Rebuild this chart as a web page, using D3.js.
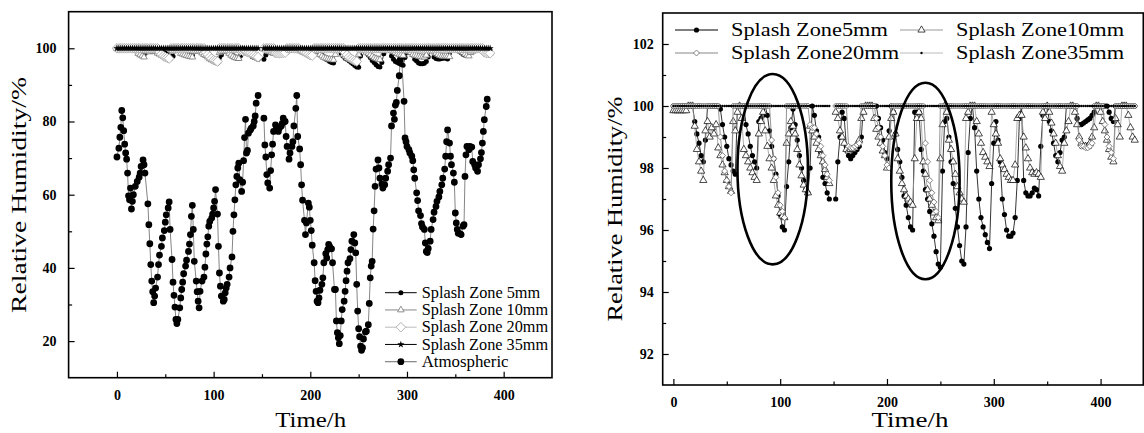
<!DOCTYPE html>
<html>
<head>
<meta charset="utf-8">
<script src="https://cdn.jsdelivr.net/npm/d3@7"></script>
<style>
  html, body { margin: 0; padding: 0; background: #fff; }
  svg { display: block; }
</style>
</head>
<body>
<script>
// sampling times (h) of the splash zone sensors, gap at 148-150 h
const hours = [
  0,2,4,6,8,10,12,14,16,18, 20,22,24,26,28,30,32,34,36,38,
  40,42,44,46,48,50,52,54,56,58, 60,62,64,66,68,70,72,74,76,78,
  80,82,84,86,88,90,92,94,96,98, 100,102,104,106,108,110,112,114,116,118,
  120,122,124,126,128,130,132,134,136,138, 140,142,144,146,
  152,154,156,158,160,162,164,166,168,170, 172,174,176,178,180,182,184,186,188,190,
  192,194,196,198,200,202,204,206,208,210, 212,214,216,218,220,222,224,226,228,230,
  232,234,236,238,240,242,244,246,248,250, 252,254,256,258,260,262,264,266,268,270,
  272,274,276,278,280,282,284,286,288,290, 292,294,296,298,300,302,304,306,308,310,
  312,314,316,318,320,322,324,326,328,330, 332,334,336,338,340,342,344,346,348,350,
  352,354,356,358,360,362,364,366,368,370, 372,374,376,378,380,382,384,386,388,390,
  392,394,396,398,400,402,404,406,408,410, 412,414,416,418,420,422,424,426,428,430,
  432
];

const splash5 = [
  100,100,100,100,100,100,100,100,100,100,
  99.5,99.1,98.8,98.4,98.2,98.9,100,100,100,100,
  100,100,99.9,99.4,99.0,98.7,98.3,98.1,97.9,97.8,
  100,100,100,100,99.4,99.1,98.7,98.4,98.2,98.0,
  99.5,99.6,99.7,100,99.7,99.2,98.7,98.3,97.8,97.1,
  96.5,96.1,96.0,97.4,98.2,99.3,99.9,99.4,98.9,98.4,
  98.0,97.6,97.3,97.2,98.0,100,99.7,99.2,99.0,98.5,
  97.7,97.5,97.2,97.0,
  97.0,98.2,99.0,99.8,99.6,98.7,98.4,98.3,98.4,98.5,
  98.6,98.7,99.0,100,100,100,100,100,100,100,
  99.6,99.3,98.9,98.5,98.3,99.2,100,99.8,99.1,98.6,
  98.2,97.7,97.1,96.8,96.4,96.1,96.0,99.8,99.8,99.8,
  98.6,97.9,97.3,97.0,96.6,96.2,95.8,95.3,94.9,94.8,
  97.9,99.5,99.6,99.0,98.2,97.5,96.7,96.1,95.5,95.0,
  94.9,96.1,98.5,99.6,100,99.3,97.9,97.0,96.4,96.1,
  95.85,95.6,95.4,97.5,98.8,99.5,98.9,98.2,97.0,96.5,
  96.0,95.8,95.8,95.9,96.4,97.6,99.6,100,97.6,97.2,
  97.1,97.1,97.2,97.35,97.3,97.1,98.7,99.7,100,100,
  99.5,99.2,98.8,98.4,98.2,98.5,98.9,99.0,100,100,
  100,100,100,99.6,99.4,99.4,99.45,99.5,99.55,99.6,
  99.7,99.8,100,100,100,100,100,100,99.8,99.6,
  99.5,100,100,100,100,100,100,100,100,100,
  100
];

const splash10 = [
  99.85,99.85,99.85,99.85,99.85,99.85,99.85,100,100,100,
  99.35,98.6,98.2,97.9,97.6,99.2,99.5,99.0,99.3,99.1,
  99.4,98.65,98.4,98.1,97.85,97.6,97.4,97.25,99.5,99.2,
  99.8,100,99.6,98.6,98.4,98.2,98.0,97.85,97.7,97.6,
  99.1,99.5,99.8,99.2,98.7,98.3,98.0,97.6,97.1,96.8,
  96.55,96.45,96.4,98.8,99.1,99.5,99.35,99.1,98.6,98.1,
  97.75,97.45,97.3,97.2,99.35,99.2,99.0,98.8,98.6,98.4,
  98.2,97.95,97.7,97.5,
  99.8,99.6,99.2,99.0,98.8,98.6,98.55,98.6,98.6,98.65,
  98.75,98.9,99.6,99.8,100,100,100,100,99.6,99.25,
  99.0,98.8,98.55,98.4,98.0,99.0,99.6,99.8,99.1,98.3,
  97.9,97.5,97.3,97.1,97.0,96.9,96.8,98.3,99.6,99.8,
  99.6,98.2,97.8,97.3,97.0,96.8,96.55,96.4,96.3,98.3,
  99.4,100,99.8,98.9,98.6,98.2,97.8,97.4,97.2,97.0,
  96.9,99.6,99.8,100,100,100,99.5,99.1,98.8,98.5,
  98.35,98.2,98.05,99.8,99.4,99.1,98.8,98.3,98.1,97.95,
  97.8,97.7,97.6,97.6,98.1,99.6,99.7,99.7,99.0,98.65,
  98.3,98.0,97.85,97.8,97.85,97.8,97.7,99.8,99.6,100,
  99.8,99.45,99.1,98.8,98.4,98.05,97.9,98.8,99.2,99.5,
  100,100,99.8,99.4,99.0,98.8,98.7,98.7,98.7,98.8,
  99.0,99.3,100,100,99.8,99.5,99.2,98.9,98.6,98.35,
  98.2,99.6,99.4,99.0,100,100,100,99.7,99.3,99.0,
  98.9
];

const splash20 = [
  100,100,100,100,100,100,100,100,100,100,
  100,100,100,100,100,100,100,100,100,100,
  100,100,99.0,98.4,97.9,97.6,97.4,97.2,100,100,
  100,100,100,100,100,100,100,100,100,100,
  100,100,100,100,100,100,98.9,98.3,97.7,97.2,
  96.8,96.6,96.4,100,100,100,100,100,100,100,
  100,100,100,100,99.4,99.3,99.3,99.1,98.9,98.7,
  98.4,98.1,97.8,97.6,
  100,100,100,100,100,100,98.7,98.65,98.65,98.7,
  98.75,98.8,100,100,100,100,100,100,100,99.6,
  99.3,99.0,98.7,98.4,98.1,98.0,100,100,100,100,
  100,100,100,100,100,100,100,100,100,100,
  100,100,98.8,98.2,97.6,97.2,96.9,96.6,96.4,100,
  100,100,100,100,100,100,100,100,100,100,
  100,100,100,100,100,100,100,100,100,100,
  100,100,100,100,100,100,100,100,100,100,
  100,100,100,100,100,100,100,100,100,100,
  100,100,100,100,100,100,100,100,100,100,
  100,100,100,100,100,100,100,100,100,100,
  100,100,100,100,98.9,98.7,98.7,98.65,98.65,98.7,
  98.8,100,100,100,100,100,99.4,99.0,98.7,98.5,
  98.3,100,100,100,100,100,100,100,100,100,
  100
];

const splash35 = [
  100,100,100,100,100,100,100,100,100,100, 100,100,100,100,100,100,100,100,100,100,
  100,100,100,100,100,100,100,100,100,100, 100,100,100,100,100,100,100,100,100,100,
  100,100,100,100,100,100,100,100,100,100, 100,100,100,100,100,100,100,100,100,100,
  100,100,100,100,100,100,100,100,100,100, 100,100,100,100,
  100,100,100,100,100,100,100,100,100,100, 100,100,100,100,100,100,100,100,100,100,
  100,100,100,100,100,100,100,100,100,100, 100,100,100,100,100,100,100,100,100,100,
  100,100,100,100,100,100,100,100,100,100, 100,100,100,100,100,100,100,100,100,100,
  100,100,100,100,100,100,100,100,100,100, 100,100,100,100,100,100,100,100,100,100,
  100,100,100,100,100,100,100,100,100,100, 100,100,100,100,100,100,100,100,100,100,
  100,100,100,100,100,100,100,100,100,100, 100,100,100,100,100,100,100,100,100,100,
  100,100,100,100,100,100,100,100,100,100, 100,100,100,100,100,100,100,100,100,100,
  100
];

// atmospheric relative humidity (left chart)
const atmoHours = [
  0,2,3,4,5,6,7,8,9,10, 11,12,13,14,15,16,17,19,21,23,
  24,25,27,28,29,32,33,34,35,36, 37,38,39,40,42,43,44,46,47,49,
  50,51,53,54,55,57,58,59,60,61, 62,63,65,66,67,68,69,71,72,74,
  75,76,77,78,79,80,82,83,84,85, 86,88,90,91,92,93,94,95,96,98,
  99,100,101,102,104,105,106,107,108,110, 111,112,113,114,116,117,119,120,121,122,
  123,124,125,126,127,129,130,131,132,133, 134,135,136,138,139,141,142,143,144,146,
  152,153,154,155,156,158,159,160,161,162, 164,165,167,168,170,171,172,174,175,176,
  178,179,181,182,183,185,186,187,189,190, 191,192,194,195,196,198,199,200,201,202,
  204,205,206,207,208,209,210,212,213,214, 216,217,218,219,220,222,223,225,226,227,
  228,229,230,231,232,233,235,236,237,238, 239,241,242,243,245,246,247,248,249,250,
  251,252,253,254,255,257,258,260,261,262, 263,264,265,266,267,268,270,271,272,274,
  275,277,278,280,281,283,284,286,287,288, 289,290,292,293,294,297,298,299,300,302,
  303,305,306,307,308,310,311,312,314,315, 316,318,319,320,321,322,324,325,327,328,
  330,331,333,334,336,337,339,340,341,342, 344,345,346,348,349,350,351,352,353,355,
  356,358,359,360,361,362,364,365,367,368, 370,371,373,374,376,377,378,379,380,382,
  383
];
const atmoRH = [
  70.3,72.7,75.7,78.4,83,81,77.5,73.8,71.4,69.7, 65.9,59.7,58.6,61.8,56.1,58.2,60,62.3,63.6,64.8,
  65.9,67.7,69.5,68.2,65.9,57.5,51.8,46.6,40.9,36.4, 33.5,30.5,32.3,34.5,37.5,40.9,43.5,45.9,48.2,50.2,
  52.5,54.5,56.4,58,50.5,42.3,36.1,32.5,29.3,25.9, 24.8,25.9,29.1,31.8,34.1,36.1,38.4,40.5,42.1,44.5,
  46.5,49.1,54.1,57.1,50.5,41.8,36.4,33.5,30.9,29.1, 33.6,36.4,37.5,40.2,43.8,46.5,48.5,51.4,52.7,53.6,
  54.7,56.4,58.2,61.4,54.7,45.9,38.6,35,32.3,30.9, 31.4,33.2,34.5,35.5,37.5,40,43,50,54.5,58.6,
  62.7,65,67.3,68.6,64.1,60.9,63.4,69.3,75.6,80.6, 71.4,72.1,76.8,77.7,78.2,78.8,80,81.5,85,87.1,
  80.9,73.6,70.3,65.5,63.2,61.8,66.6,70.9,73.8,77.3, 79.1,78.2,77.3,78.2,78.8,79.5,80.9,80,75.9,73.2,
  69.7,71.4,73.2,74.5,78.8,83.6,87.1,75.9,72.5,68.2, 62.7,58.5,53,49.1,52.3,57.7,56.6,53,50.2,46.2,
  41.4,36.5,33.6,30.9,30.5,31.8,33.9,35.5,37.3,41.4, 43.9,42.7,45,46.4,45.9,45.2,41.4,34.1,34.1,25.5,
  22.3,20.9,19.3,21.5,25.5,28.6,30.9,33.6,36.5,39.1, 41.4,42.5,45,47.3,49.1,46.8,44.1,35.5,28.2,23.4,
  21.2,18.6,17.5,18.2,20.6,22.5,22.7,24.5,30.3,37.3, 40.5,41.8,50.6,55.6,62.3,67,69.5,67.3,64.5,62.9,
  61.8,62.7,64.5,66.4,68.2,70,78.8,82.3,80.6,84.5, 85.2,88.5,92.5,96.8,99.1,85.5,75.5,74.5,73.2,72.3,
  71.4,70.5,69.3,66.8,64.5,60.5,58.4,55.6,54.3,52.1, 51.2,50.5,46.8,44.5,44.2,45.3,47.3,50.5,53.2,55.2,
  56.8,58.2,59.4,60.9,62.7,64.5,67,70.5,74.5,77.7, 74.1,70.5,68.2,65.9,63.4,55,52.3,50.5,49.5,49.3,
  49.1,51.4,51.8,65,70.9,73.2,72.3,73.2,73,69.1, 68.2,67.3,66.4,68.2,69.8,71.5,74.1,77.3,80.5,84.1,
  86.1
];

// circled regions on the right chart: centre (h, %) and half extents (h, %)
const ellipseCentreH = [93, 236];
const ellipseCentreRH = [97.96, 97.58];
const ellipseHalfH = [33, 32];
const ellipseHalfRH = [3.07, 3.17];

const leftNames = ["Splash Zone 5mm", "Splash Zone 10mm", "Splash Zone 20mm", "Splash Zone 35mm", "Atmospheric"];
const rightNames = ["Splash Zone5mm", "Splash Zone10mm", "Splash Zone20mm", "Splash Zone35mm"];

const W = 1144, H = 433;
const serif = "'Liberation Serif','Times New Roman',serif";
const svg = d3.select("body").append("svg").attr("width", W).attr("height", H);

// marker shapes
const tri = a => `M0,${-a * 1.15}L${a},${a * 0.58}L${-a},${a * 0.58}Z`;
const dia = a => `M0,${-a}L${a},0L0,${a}L${-a},0Z`;
const dot = r => d3.symbol(d3.symbolCircle, Math.PI * r * r)();
const star = s => d3.symbol(d3.symbolStar, s)();

function panel(c) {
  const x = d3.scaleLinear().domain(c.xd).range([c.x0, c.x1]);
  const y = d3.scaleLinear().domain(c.yd).range([c.y1, c.y0]);
  const g = svg.append("g");
  const clipId = "clip" + c.id;
  svg.append("clipPath").attr("id", clipId).append("rect")
    .attr("x", c.x0).attr("y", c.y0).attr("width", c.x1 - c.x0).attr("height", c.y1 - c.y0);
  const plot = g.append("g").attr("clip-path", `url(#${clipId})`);

  const styleAxis = sel => {
    sel.select(".domain").remove();
    sel.attr("font-family", serif).attr("font-size", c.tickFont).attr("font-weight", "bold");
    sel.selectAll("line").attr("stroke", "#000").attr("stroke-width", 1.2);
    sel.selectAll("text").attr("fill", "#000");
  };
  g.append("g").attr("transform", `translate(0,${c.y1})`)
    .call(d3.axisBottom(x).tickValues(c.xMajor).tickFormat(d3.format("d")).tickSize(-6).tickPadding(c.xPad))
    .call(styleAxis);
  g.append("g").attr("transform", `translate(0,${c.y1})`)
    .call(d3.axisBottom(x).tickValues(c.xMinor).tickFormat("").tickSize(-3.5))
    .call(styleAxis);
  g.append("g").attr("transform", `translate(${c.x0},0)`)
    .call(d3.axisLeft(y).tickValues(c.yMajor).tickFormat(d3.format("d")).tickSize(-6).tickPadding(c.yPad))
    .call(styleAxis);
  g.append("g").attr("transform", `translate(${c.x0},0)`)
    .call(d3.axisLeft(y).tickValues(c.yMinor).tickFormat("").tickSize(-3.5))
    .call(styleAxis);

  g.append("rect").attr("x", c.x0).attr("y", c.y0)
    .attr("width", c.x1 - c.x0).attr("height", c.y1 - c.y0)
    .attr("fill", "none").attr("stroke", "#000").attr("stroke-width", 1.6);

  g.append("text").attr("font-family", serif).attr("font-size", c.titleFont)
    .attr("text-anchor", "middle").attr("x", c.xTitleX).attr("y", c.xTitleY)
    .attr("textLength", c.xTitleLen).attr("lengthAdjust", "spacingAndGlyphs").text("Time/h");
  g.append("text").attr("font-family", serif).attr("font-size", c.titleFont)
    .attr("text-anchor", "middle")
    .attr("transform", `translate(${c.yTitleX},${c.yTitleY}) rotate(-90)`)
    .attr("textLength", c.yTitleLen).attr("lengthAdjust", "spacingAndGlyphs").text("Relative Humidity/%");
  return { x, y, g, plot };
}

function drawSeries(p, ts, vs, st) {
  const pts = ts.map((t, i) => [t, vs[i]]).filter(d => d[0] <= st.tmax);
  // break the line where the record has a gap
  const segs = [];
  pts.forEach((d, i) => {
    if (i === 0 || d[0] - pts[i - 1][0] > 4) segs.push([]);
    segs[segs.length - 1].push(d);
  });
  const line = d3.line().x(d => p.x(d[0])).y(d => p.y(d[1]));
  p.plot.append("g").selectAll("path").data(segs).join("path")
    .attr("d", line).attr("fill", "none").attr("stroke", st.line).attr("stroke-width", st.lw);
  p.plot.append("g").selectAll("path").data(pts).join("path")
    .attr("transform", d => `translate(${p.x(d[0])},${p.y(d[1])})`)
    .attr("d", st.shape).attr("fill", st.fill).attr("stroke", st.stroke).attr("stroke-width", st.sw);
}

function legendItem(g, x0, x1, y, tx, st, label, font, charW) {
  g.append("line").attr("x1", x0).attr("x2", x1).attr("y1", y).attr("y2", y)
    .attr("stroke", st.line).attr("stroke-width", st.lw + 0.2);
  g.append("path").attr("transform", `translate(${(x0 + x1) / 2},${y})`)
    .attr("d", st.shape).attr("fill", st.fill).attr("stroke", st.stroke).attr("stroke-width", st.sw);
  g.append("text").attr("font-family", serif).attr("font-size", font)
    .attr("x", tx).attr("y", y + font * 0.33)
    .attr("textLength", label.length * charW).attr("lengthAdjust", "spacingAndGlyphs").text(label);
}

// ---------- left chart ----------
const L = panel({
  id: "L", x0: 68.6, x1: 552, y0: 11.7, y1: 377.7, xd: [-50, 450], yd: [10, 110],
  xMajor: [0, 100, 200, 300, 400], xMinor: [50, 150, 250, 350],
  yMajor: [20, 40, 60, 80, 100], yMinor: [30, 50, 70, 90],
  tickFont: 14, xPad: 12, yPad: 12, titleFont: 21,
  xTitleX: 310.7, xTitleY: 427, xTitleLen: 71,
  yTitleX: 25.5, yTitleY: 195, yTitleLen: 236
});

const leftStyles = [
  { line: "#000", lw: 0.8, shape: dot(2.5), fill: "#000", stroke: "none", sw: 0, tmax: 386 },
  { line: "#888", lw: 0.8, shape: tri(3.3), fill: "#fff", stroke: "#777", sw: 0.8, tmax: 386 },
  { line: "#bbb", lw: 0.8, shape: dia(4.8), fill: "#fff", stroke: "#aaa", sw: 0.9, tmax: 386 },
  { line: "#000", lw: 0.8, shape: star(16), fill: "#000", stroke: "none", sw: 0, tmax: 386 },
  { line: "#777", lw: 0.9, shape: dot(3.4), fill: "#000", stroke: "none", sw: 0, tmax: 999 }
];
const splashSeries = [splash5, splash10, splash20, splash35];
// splash zone band on top; draw the atmospheric series first
drawSeries(L, atmoHours, atmoRH, leftStyles[4]);
splashSeries.forEach((vs, i) => drawSeries(L, hours, vs, leftStyles[i]));

const legL = L.g.append("g");
leftNames.forEach((n, i) => {
  legendItem(legL, 385, 416.7, 292.7 + i * 17.25, 421.7, leftStyles[i], n, 16, 7.9);
});

// ---------- right chart ----------
const R = panel({
  id: "R", x0: 662.7, x1: 1143.3, y0: 13, y1: 385, xd: [-10, 440], yd: [91, 103],
  xMajor: [0, 100, 200, 300, 400], xMinor: [50, 150, 250, 350],
  yMajor: [92, 94, 96, 98, 100, 102], yMinor: [93, 95, 97, 99, 101],
  tickFont: 14, xPad: 12, yPad: 9, titleFont: 21,
  xTitleX: 910, xTitleY: 427, xTitleLen: 77,
  yTitleX: 622, yTitleY: 209, yTitleLen: 225
});

const rightStyles = [
  { line: "#000", lw: 0.8, shape: dot(2.6), fill: "#000", stroke: "none", sw: 0, tmax: 999 },
  { line: "#999", lw: 0.8, shape: tri(3.6), fill: "#fff", stroke: "#000", sw: 0.7, tmax: 999 },
  { line: "#888", lw: 0.9, shape: dia(3.0), fill: "#fff", stroke: "#666", sw: 0.8, tmax: 999 },
  { line: "#aaa", lw: 0.6, shape: dot(1.2), fill: "#000", stroke: "none", sw: 0, tmax: 999 }
];
splashSeries.forEach((vs, i) => drawSeries(R, hours, vs, rightStyles[i]));

R.plot.append("g").selectAll("ellipse").data(ellipseCentreH).join("ellipse")
  .attr("cx", (d) => R.x(d))
  .attr("cy", (d, i) => R.y(ellipseCentreRH[i]))
  .attr("rx", (d, i) => R.x(d + ellipseHalfH[i]) - R.x(d))
  .attr("ry", (d, i) => R.y(ellipseCentreRH[i] - ellipseHalfRH[i]) - R.y(ellipseCentreRH[i]))
  .attr("fill", "none").attr("stroke", "#000").attr("stroke-width", 2.6);

const legR = R.g.append("g");
rightNames.forEach((n, i) => {
  const col = i % 2, row = Math.floor(i / 2);
  const x0 = col ? 900 : 675;
  legendItem(legR, x0, x0 + 43, 30 + row * 23, x0 + 56, rightStyles[i], n, 19, 11.2);
});
</script>
</body>
</html>
